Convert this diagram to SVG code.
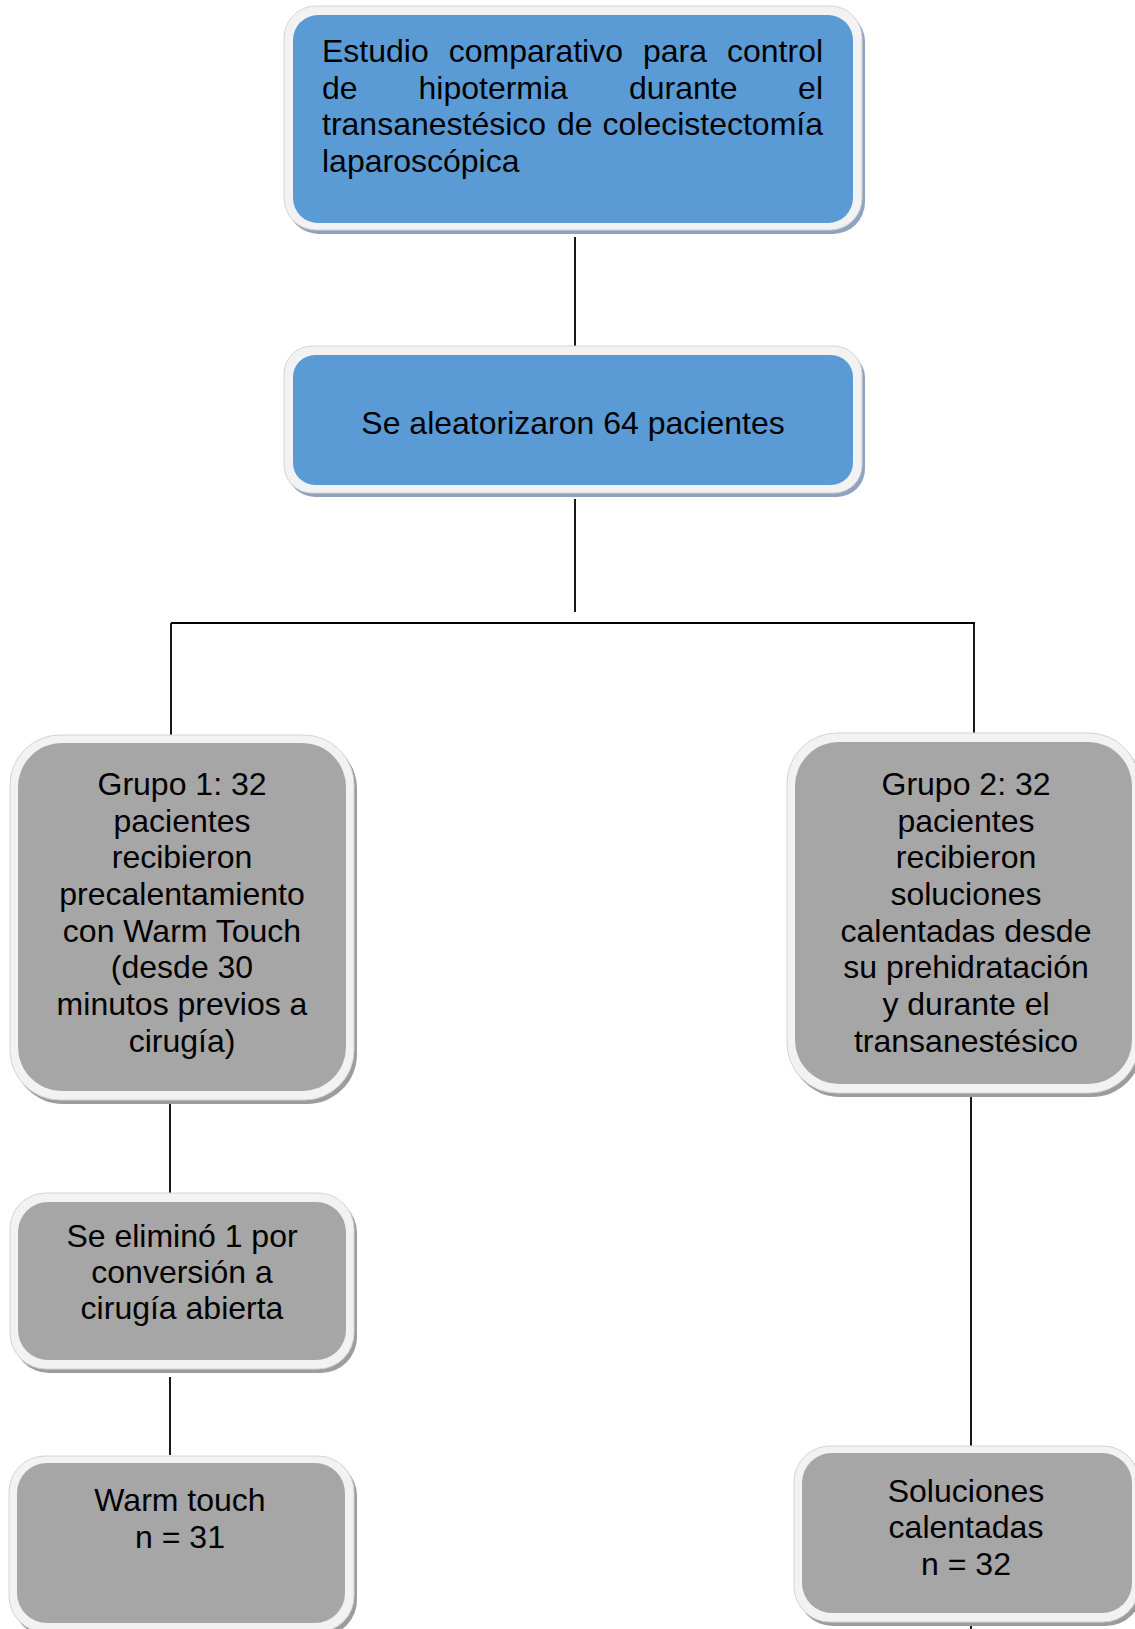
<svg xmlns="http://www.w3.org/2000/svg" width="1135" height="1629" viewBox="0 0 1135 1629">
<style>
  .t { font-family: "Liberation Sans", Arial, sans-serif; font-size: 32px; fill: #000; }
  .c { text-anchor: middle; }
  .e { text-anchor: end; }
  .frame { fill: #f2f2f2; stroke: #d4d4d4; stroke-width: 1; }
  .shb { fill: #8ea3bf; }
  .shg { fill: #9c9c9c; }
  .blue { fill: #5b9bd5; }
  .gray { fill: #a6a6a6; }
  .ln { stroke: #000; stroke-width: 1.8; fill: none; }
</style>
<rect width="1135" height="1629" fill="#ffffff"/>

<g id="connectors">
  <line class="ln" x1="575" y1="237" x2="575" y2="346"/>
  <line class="ln" x1="575" y1="499" x2="575" y2="612"/>
  <line class="ln" x1="171" y1="623" x2="975" y2="623"/>
  <line class="ln" x1="171" y1="623" x2="171" y2="737"/>
  <line class="ln" x1="974" y1="623" x2="974" y2="735"/>
  <line class="ln" x1="170" y1="1078" x2="170" y2="1193"/>
  <line class="ln" x1="170" y1="1377" x2="170" y2="1455"/>
  <line class="ln" x1="971" y1="1078" x2="971" y2="1446"/>
  <line class="ln" x1="971" y1="1622" x2="971" y2="1629"/>
</g>

<g id="node-estudio">
  <rect class="shb" x="287" y="10" width="578" height="224" rx="32"/>
  <rect class="frame" x="284" y="6" width="578" height="224" rx="32"/>
  <rect class="blue" x="293" y="15" width="560" height="208" rx="25"/>
  <text class="t" y="62"><tspan x="322">Estudio</tspan><tspan x="448.7">comparativo</tspan><tspan x="643">para</tspan><tspan x="727">control</tspan></text>
  <text class="t" y="99"><tspan x="322">de</tspan><tspan x="418.5">hipotermia</tspan><tspan x="629">durante</tspan></text>
  <text class="t e" x="823" y="99">el</text>
  <text class="t" y="135"><tspan x="322">transanestésico</tspan><tspan x="557">de</tspan></text>
  <text class="t e" x="823" y="135">colecistectomía</text>
  <text class="t" x="322" y="172">laparoscópica</text>
</g>

<g id="node-aleatorizaron">
  <rect class="shb" x="287" y="350" width="578" height="147" rx="28"/>
  <rect class="frame" x="284" y="346" width="578" height="147" rx="28"/>
  <rect class="blue" x="293" y="355" width="560" height="130" rx="22"/>
  <text class="t c" x="573" y="434">Se aleatorizaron 64 pacientes</text>
</g>

<g id="node-grupo1">
  <rect class="shg" x="13" y="739" width="344" height="365" rx="50"/>
  <rect class="frame" x="10" y="735" width="344" height="365" rx="50"/>
  <rect class="gray" x="18" y="743" width="328" height="348" rx="44"/>
  <text class="t c" x="182" y="795">Grupo 1: 32</text>
  <text class="t c" x="182" y="832">pacientes</text>
  <text class="t c" x="182" y="868">recibieron</text>
  <text class="t c" x="182" y="905">precalentamiento</text>
  <text class="t c" x="182" y="942">con Warm Touch</text>
  <text class="t c" x="182" y="978">(desde 30</text>
  <text class="t c" x="182" y="1015">minutos previos a</text>
  <text class="t c" x="182" y="1052">cirugía)</text>
</g>

<g id="node-grupo2">
  <rect class="shg" x="790" y="737" width="352" height="360" rx="50"/>
  <rect class="frame" x="787" y="733" width="352" height="360" rx="50"/>
  <rect class="gray" x="795" y="742" width="337" height="342" rx="44"/>
  <text class="t c" x="966" y="795">Grupo 2: 32</text>
  <text class="t c" x="966" y="832">pacientes</text>
  <text class="t c" x="966" y="868">recibieron</text>
  <text class="t c" x="966" y="905">soluciones</text>
  <text class="t c" x="966" y="942">calentadas desde</text>
  <text class="t c" x="966" y="978">su prehidratación</text>
  <text class="t c" x="966" y="1015">y durante el</text>
  <text class="t c" x="966" y="1052">transanestésico</text>
</g>

<g id="node-eliminado">
  <rect class="shg" x="13" y="1197" width="344" height="176" rx="36"/>
  <rect class="frame" x="10" y="1193" width="344" height="176" rx="36"/>
  <rect class="gray" x="18" y="1202" width="328" height="158" rx="30"/>
  <text class="t c" x="182" y="1247">Se eliminó 1 por</text>
  <text class="t c" x="182" y="1283">conversión a</text>
  <text class="t c" x="182" y="1319">cirugía abierta</text>
</g>

<g id="node-warmtouch">
  <rect class="shg" x="12" y="1460" width="345" height="176" rx="36"/>
  <rect class="frame" x="9" y="1456" width="345" height="176" rx="36"/>
  <rect class="gray" x="17" y="1463" width="328" height="160" rx="30"/>
  <text class="t c" x="180" y="1511">Warm touch</text>
  <text class="t c" x="180" y="1548">n = 31</text>
</g>

<g id="node-soluciones">
  <rect class="shg" x="797" y="1450" width="345" height="176" rx="36"/>
  <rect class="frame" x="794" y="1446" width="345" height="176" rx="36"/>
  <rect class="gray" x="802" y="1453" width="330" height="160" rx="30"/>
  <text class="t c" x="966" y="1502">Soluciones</text>
  <text class="t c" x="966" y="1538">calentadas</text>
  <text class="t c" x="966" y="1575">n = 32</text>
</g>
</svg>
